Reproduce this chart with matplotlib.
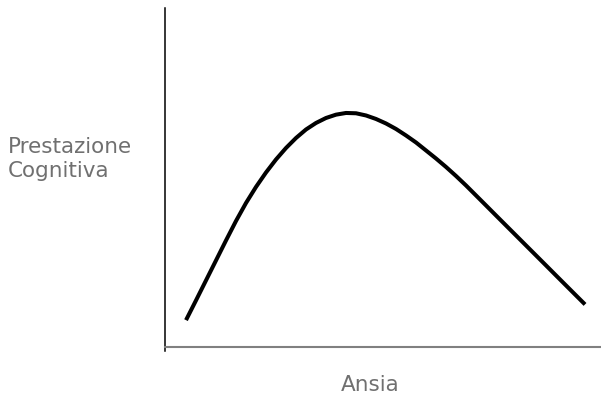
import matplotlib
matplotlib.use("Agg")
import matplotlib.pyplot as plt

ansia = [4.83, 7.12, 9.42, 11.72, 14.02, 16.32, 18.62, 20.91, 23.21, 25.51,
         27.81, 30.11, 32.41, 34.70, 37.00, 39.30, 41.60, 43.90, 46.20, 48.49,
         50.79, 53.09, 55.39, 57.69, 59.99, 62.28, 64.58, 66.88, 69.18, 71.48,
         73.78, 76.07, 78.37, 80.67, 82.97, 85.27, 87.57, 89.86, 92.16, 94.46,
         96.53]
prestazione = [7.91, 13.72, 19.62, 25.52, 31.42, 37.17, 42.48, 47.20, 51.47, 55.31,
               58.70, 61.65, 64.16, 66.08, 67.55, 68.53, 69.03, 68.94, 68.29, 67.26,
               65.93, 64.31, 62.39, 60.32, 57.96, 55.60, 53.10, 50.44, 47.64, 44.69,
               41.74, 38.79, 35.84, 32.89, 29.94, 26.99, 24.04, 21.09, 18.14, 15.19,
               12.54]
ylabel_lines = ["Prestazione", "Cognitiva"]
xlabel_text = "Ansia"

W, H = 601, 399
fig = plt.figure(figsize=(W / 100, H / 100), dpi=100)
ax = fig.add_axes([165 / W, (H - 351) / H, 436 / W, 343 / H])
ax.plot(ansia, prestazione, color="black", linewidth=2.9,
        solid_capstyle="butt", solid_joinstyle="round")
ax.set_xlim(0, 100.2)
ax.set_ylim(-1.2, 100)
ax.spines["top"].set_visible(False)
ax.spines["right"].set_visible(False)
ax.spines["left"].set_color("black")
ax.spines["left"].set_linewidth(1.1)
ax.spines["bottom"].set_position(("data", 0))
ax.spines["bottom"].set_color("#808080")
ax.spines["bottom"].set_linewidth(1.5)
ax.set_xticks([])
ax.set_yticks([])

txt_color = "#707070"
for line, base in zip(ylabel_lines, [153, 177]):
    fig.text(8 / W, 1 - base / H, line, ha="left", va="baseline", fontsize=15.5,
             color=txt_color, family="DejaVu Sans")
fig.text(370 / W, 1 - 391 / H, xlabel_text, ha="center", va="baseline", fontsize=15.5,
         color=txt_color, family="DejaVu Sans")

fig.savefig("out.png", dpi=100)
